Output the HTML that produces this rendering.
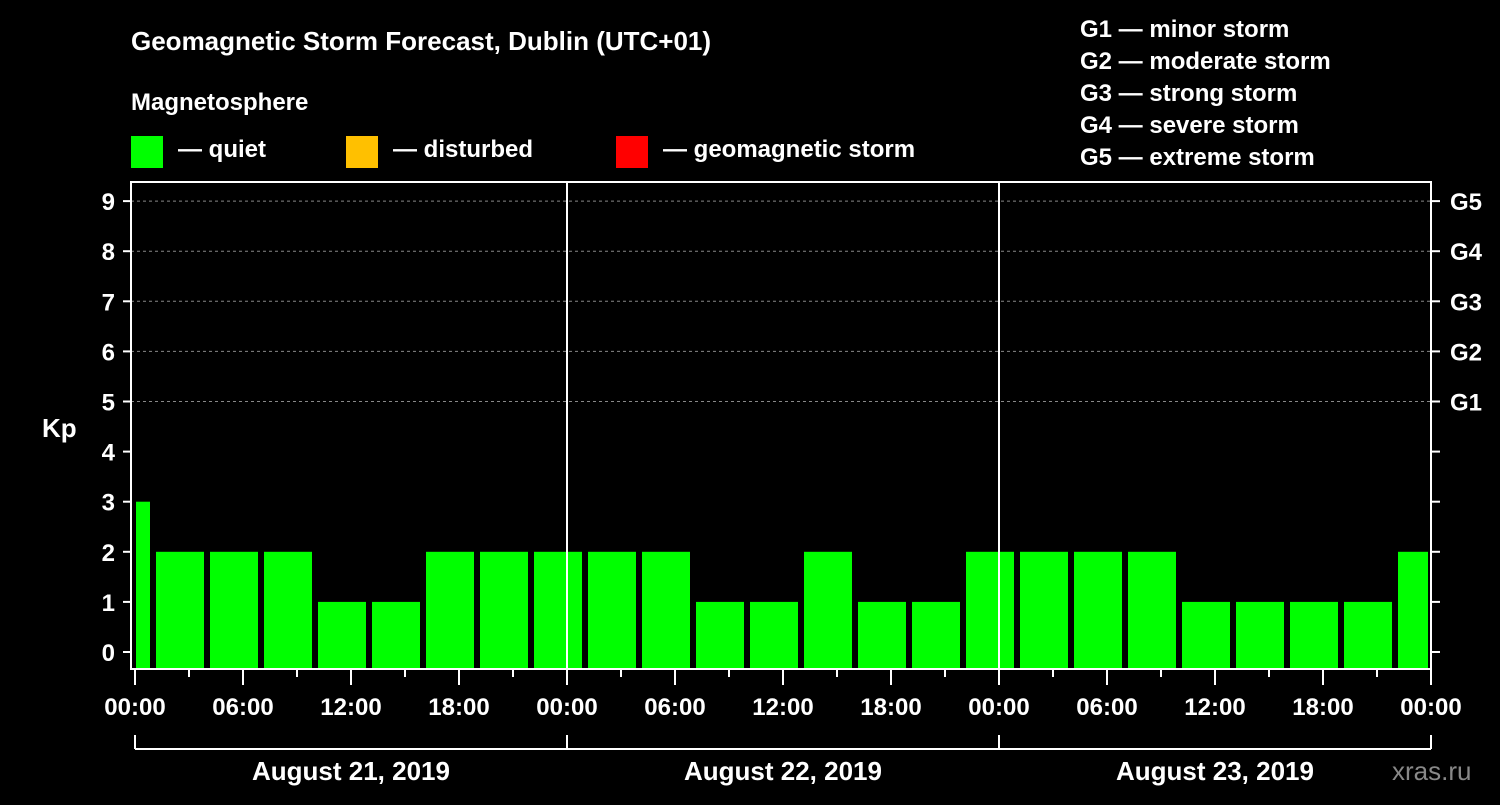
<!DOCTYPE html>
<html><head><meta charset="utf-8"><style>
body{margin:0;background:#000;width:1500px;height:800px;overflow:hidden}
text{font-family:"Liberation Sans",sans-serif;font-weight:bold;fill:#fff}
</style></head><body>
<svg width="1500" height="800">
<text x="131" y="50" font-size="26">Geomagnetic Storm Forecast, Dublin (UTC+01)</text>
<text x="131" y="110" font-size="24">Magnetosphere</text>
<g><rect x="131" y="136" width="32" height="32" fill="#00ff00"/><text x="178" y="157" font-size="24">— quiet</text></g>
<g><rect x="346" y="136" width="32" height="32" fill="#ffc000"/><text x="393" y="157" font-size="24">— disturbed</text></g>
<g><rect x="616" y="136" width="32" height="32" fill="#ff0000"/><text x="663" y="157" font-size="24">— geomagnetic storm</text></g>
<g font-size="24">
<text x="1080" y="37">G1 — minor storm</text><text x="1080" y="69">G2 — moderate storm</text><text x="1080" y="101">G3 — strong storm</text><text x="1080" y="133">G4 — severe storm</text><text x="1080" y="165">G5 — extreme storm</text></g>
<text x="42" y="437" font-size="26">Kp</text>
<g id="grid"></g><g id="bars"></g><g id="axes"></g>
<text x="1392" y="780" font-size="26" fill="#777" style="fill:#888;font-weight:normal">xras.ru</text>
</svg>
<script>
const kpValues=[3,2,2,2,1,1,2,2,2,2,2,1,1,2,1,1,2,2,2,2,1,1,1,1,2];
const binHours=[1,3,3,3,3,3,3,3,3,3,3,3,3,3,3,3,3,3,3,3,3,3,3,3,2];
const yTicks=[0,1,2,3,4,5,6,7,8,9];
const gLabels=["G1","G2","G3","G4","G5"];
const xTickLabels=["00:00","06:00","12:00","18:00","00:00","06:00","12:00","18:00","00:00","06:00","12:00","18:00","00:00"];
const dayLabels=["August 21, 2019","August 22, 2019","August 23, 2019"];
const NS="http://www.w3.org/2000/svg";
const X0=135,PXH=18,L=131,R=1431,T=182,B=669;
const xh=h=>X0+h*PXH, yv=v=>652-v*50.1;
function mk(t,a,p){const e=document.createElementNS(NS,t);for(const k in a)e.setAttribute(k,a[k]);p.appendChild(e);return e;}
const grid=document.getElementById('grid'),bars=document.getElementById('bars'),axes=document.getElementById('axes');
for(let v=5;v<=9;v++){const l=mk('line',{x1:L,x2:R,y1:yv(v),y2:yv(v),stroke:'#888','stroke-dasharray':'3,3','stroke-width':1},grid);

}
let h=0;
kpValues.forEach((v,i)=>{const w=binHours[i];const x1=xh(h)+(i===0?1:3),x2=xh(h+w)-3;
const c=v>=5?'#ff0000':(v>=4?'#ffc000':'#00ff00');
const r=mk('rect',{x:x1,y:yv(v),width:x2-x1,height:B-1-yv(v),fill:c},bars);


h+=w;});
mk('rect',{x:L,y:T,width:R-L,height:B-T,fill:'none',stroke:'#fff','stroke-width':2},axes);
[24,48].forEach(hh=>{mk('line',{x1:xh(hh),x2:xh(hh),y1:T,y2:B,stroke:'#fff','stroke-width':2},axes);});
yTicks.forEach(v=>{const y=yv(v);mk('line',{x1:L-8,x2:L,y1:y,y2:y,stroke:'#fff','stroke-width':2},axes);mk('line',{x1:R,x2:R+9,y1:y,y2:y,stroke:'#fff','stroke-width':2},axes);
const t=mk('text',{x:115,y:y+9,'font-size':24,'text-anchor':'end'},axes);t.textContent=v;

});
gLabels.forEach((g,i)=>{const t=mk('text',{x:1450,y:yv(5+i)+9,'font-size':24},axes);t.textContent=g;

});
for(let k=0;k<=24;k++){const x=xh(k*3);mk('line',{x1:x,x2:x,y1:B,y2:B+(k%2?8:16),stroke:'#fff','stroke-width':2},axes);}
xTickLabels.forEach((s,i)=>{const t=mk('text',{x:xh(i*6),y:715,'font-size':24,'text-anchor':'middle'},axes);t.textContent=s;

});
mk('line',{x1:xh(0),x2:xh(72),y1:749,y2:749,stroke:'#fff','stroke-width':2},axes);
[0,24,48,72].forEach(hh=>mk('line',{x1:xh(hh),x2:xh(hh),y1:735,y2:749,stroke:'#fff','stroke-width':2},axes));
dayLabels.forEach((s,i)=>{const t=mk('text',{x:xh(i*24+12),y:780,'font-size':26,'text-anchor':'middle'},axes);t.textContent=s;

});
</script>
</body></html>
